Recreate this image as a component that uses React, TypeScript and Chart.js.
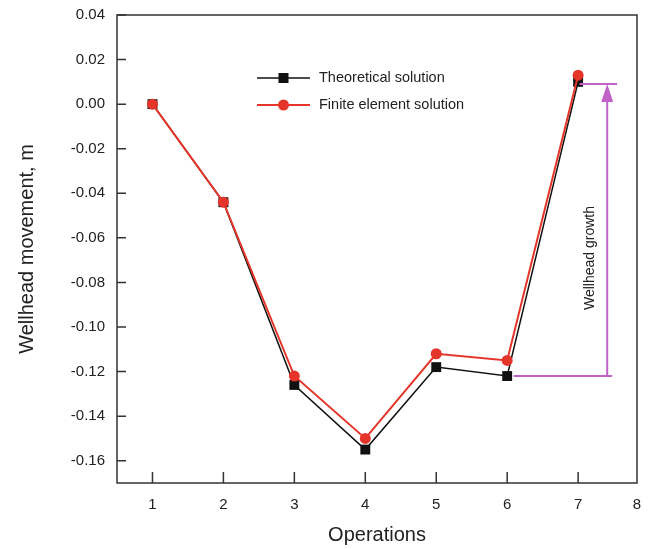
import React, { useEffect, useRef } from "react";
import { Chart, registerables } from "chart.js";

Chart.register(...registerables);

const operations = [1, 2, 3, 4, 5, 6, 7];
const theoretical = [0.0, -0.044, -0.126, -0.155, -0.118, -0.122, 0.01];
const finiteElement = [0.0, -0.044, -0.122, -0.15, -0.112, -0.115, 0.013];
const yTicks = [-0.16, -0.14, -0.12, -0.1, -0.08, -0.06, -0.04, -0.02, 0.0, 0.02, 0.04];
const xTicks = [1, 2, 3, 4, 5, 6, 7];
const xEndTick = 7.83;
const xEndLabel = "8";
const growthBottom = -0.122;
const growthTop = 0.009;

const FONT = "'Liberation Sans', Arial, sans-serif";
const PURPLE = "#C062C8";
const RED = "#E5352A";
const BLACK = "#111111";
const AXIS = "#333333";

const decor = {
  id: "decor",
  afterDraw(chart: any) {
    const { ctx, chartArea: a, scales } = chart;
    const x = scales.x;
    const y = scales.y;
    ctx.save();
    // frame
    ctx.strokeStyle = AXIS;
    ctx.lineWidth = 1.5;
    ctx.strokeRect(a.left, a.top, a.right - a.left, a.bottom - a.top);
    // inward ticks
    ctx.beginPath();
    yTicks.forEach((v) => {
      const py = y.getPixelForValue(v);
      ctx.moveTo(a.left, py);
      ctx.lineTo(a.left + 9, py);
    });
    xTicks.forEach((v) => {
      const px = x.getPixelForValue(v);
      ctx.moveTo(px, a.bottom);
      ctx.lineTo(px, a.bottom - 11);
    });
    ctx.stroke();

    // wellhead growth annotation
    const yb = y.getPixelForValue(growthBottom);
    const yt = y.getPixelForValue(growthTop);
    ctx.strokeStyle = PURPLE;
    ctx.fillStyle = PURPLE;
    ctx.lineWidth = 2;
    ctx.beginPath();
    ctx.moveTo(x.getPixelForValue(6.09), yb);
    ctx.lineTo(x.getPixelForValue(7.48), yb);
    ctx.moveTo(x.getPixelForValue(7.02), yt);
    ctx.lineTo(x.getPixelForValue(7.55), yt);
    const ax = x.getPixelForValue(7.41);
    ctx.moveTo(ax, yb);
    ctx.lineTo(ax, yt + 16);
    ctx.stroke();
    ctx.beginPath();
    ctx.moveTo(ax, yt);
    ctx.lineTo(ax - 6, yt + 18);
    ctx.lineTo(ax + 6, yt + 18);
    ctx.closePath();
    ctx.fill();

    ctx.fillStyle = "#222";
    ctx.font = `14px ${FONT}`;
    ctx.textAlign = "center";
    ctx.textBaseline = "middle";
    ctx.save();
    ctx.translate(x.getPixelForValue(7.17), (yb + yt) / 2 + 28);
    ctx.rotate(-Math.PI / 2);
    ctx.fillText("Wellhead growth", 0, 0);
    ctx.restore();

    // legend
    const lx = a.left + 140;
    const ly1 = a.top + 63;
    const ly2 = a.top + 90;
    ctx.lineWidth = 1.5;
    ctx.strokeStyle = BLACK;
    ctx.beginPath();
    ctx.moveTo(lx, ly1);
    ctx.lineTo(lx + 53, ly1);
    ctx.stroke();
    ctx.fillStyle = BLACK;
    ctx.fillRect(lx + 26.5 - 5, ly1 - 5, 10, 10);
    ctx.lineWidth = 2;
    ctx.strokeStyle = RED;
    ctx.beginPath();
    ctx.moveTo(lx, ly2);
    ctx.lineTo(lx + 53, ly2);
    ctx.stroke();
    ctx.fillStyle = RED;
    ctx.beginPath();
    ctx.arc(lx + 26.5, ly2, 5.5, 0, Math.PI * 2);
    ctx.fill();
    ctx.fillStyle = "#222";
    ctx.font = `14.5px ${FONT}`;
    ctx.textAlign = "left";
    ctx.fillText("Theoretical solution", lx + 62, ly1);
    ctx.fillText("Finite element solution", lx + 62, ly2);
    ctx.restore();
  },
};

export default function App() {
  const ref = useRef<HTMLCanvasElement>(null);
  useEffect(() => {
    document.body.style.margin = "0";
    const canvas = ref.current!;
    const chart = new Chart(canvas, {
      type: "line",
      data: {
        datasets: [
          {
            label: "Finite element solution",
            data: operations.map((o, i) => ({ x: o, y: finiteElement[i] })),
            borderColor: RED,
            backgroundColor: RED,
            borderWidth: 2,
            pointStyle: "circle",
            pointRadius: 5.5,
            pointBorderWidth: 0,
          },
          {
            label: "Theoretical solution",
            data: operations.map((o, i) => ({ x: o, y: theoretical[i] })),
            borderColor: BLACK,
            backgroundColor: BLACK,
            borderWidth: 1.5,
            pointStyle: "rect",
            pointRadius: 7,
            pointBorderWidth: 0,
          },
        ],
      },
      options: {
        responsive: false,
        animation: false,
        layout: { padding: { top: 15, right: 11, left: 0, bottom: 0 } },
        plugins: { legend: { display: false }, tooltip: { enabled: false } },
        scales: {
          x: {
            type: "linear",
            min: 0.5,
            max: xEndTick,
            afterBuildTicks: (s: any) => {
              s.ticks = [...xTicks, xEndTick].map((v) => ({ value: v }));
            },
            afterFit: (s: any) => {
              s.height = 66;
              s.paddingLeft = 0;
              s.paddingRight = 0;
            },
            grid: { display: false, drawTicks: false },
            border: { display: false },
            ticks: {
              autoSkip: false,
              maxRotation: 0,
              padding: 13,
              color: "#222",
              font: { family: FONT, size: 15 },
              callback: (v: any) => (v > 7.5 ? xEndLabel : String(v)),
            },
            title: {
              display: true,
              text: "Operations",
              color: "#222",
              font: { family: FONT, size: 20 },
              padding: { top: 0, bottom: 2 },
            },
          },
          y: {
            min: -0.17,
            max: 0.04,
            afterBuildTicks: (s: any) => {
              s.ticks = yTicks.map((v) => ({ value: v }));
            },
            afterFit: (s: any) => {
              s.width = 117;
              s.paddingTop = 0;
              s.paddingBottom = 0;
            },
            grid: { display: false, drawTicks: false },
            border: { display: false },
            ticks: {
              autoSkip: false,
              padding: 12,
              color: "#222",
              font: { family: FONT, size: 15 },
              callback: (v: any) => Number(v).toFixed(2),
            },
            title: {
              display: true,
              text: "Wellhead movement, m",
              color: "#222",
              font: { family: FONT, size: 20 },
              padding: { top: 15, bottom: 0 },
            },
          },
        },
      },
      plugins: [decor],
    });
    return () => chart.destroy();
  }, []);
  return <canvas ref={ref} width={648} height={549} style={{ display: "block" }} />;
}
